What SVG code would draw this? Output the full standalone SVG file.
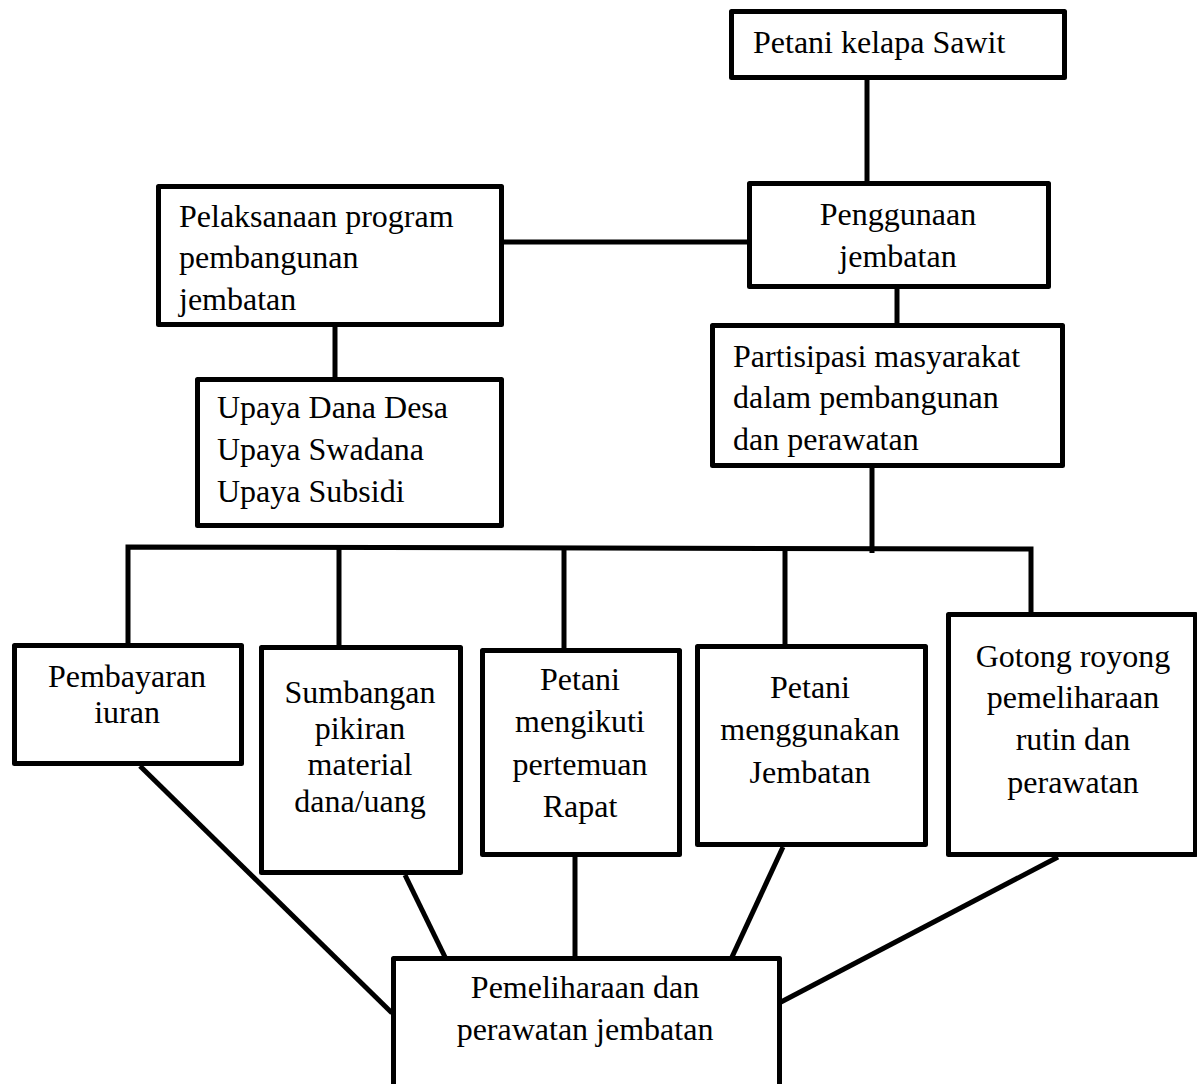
<svg xmlns="http://www.w3.org/2000/svg" width="1197" height="1084" viewBox="0 0 1197 1084">
<style>
.box{fill:#fff;stroke:#000;stroke-width:5;stroke-linejoin:round}
.ln{fill:none;stroke:#000;stroke-width:5}
text{font-family:"Liberation Serif","Times New Roman",serif;font-size:32px;fill:#000}
.c{text-anchor:middle}
</style>
<rect width="1197" height="1084" fill="#fff"/>
<g id="connectors">
<path class="ln" d="M867,80 V181"/>
<path class="ln" d="M504,242 H747"/>
<path class="ln" d="M335,327 V377"/>
<path class="ln" d="M897,289 V323"/>
<path class="ln" d="M872,468 V553"/>
<path class="ln" d="M128,643 V547 L1031,549 V612"/>
<path class="ln" d="M339,547 V645"/>
<path class="ln" d="M564,548 V648"/>
<path class="ln" d="M785,548 V644"/>
<path class="ln" d="M140,766 L392,1013"/>
<path class="ln" d="M405,875 L445,957"/>
<path class="ln" d="M575,857 V957"/>
<path class="ln" d="M783,847 L732,957"/>
<path class="ln" d="M1058,857 L781,1002"/>
</g>
<g id="n-petani">
<rect class="box" x="731.5" y="11.5" width="333" height="66"/>
<text x="753" y="53">Petani kelapa Sawit</text>
</g>
<g id="n-penggunaan">
<rect class="box" x="749.5" y="183.5" width="299" height="103"/>
<text class="c" x="898" y="225">Penggunaan</text>
<text class="c" x="898" y="267">jembatan</text>
</g>
<g id="n-pelaksanaan">
<rect class="box" x="158.5" y="186.5" width="343" height="138"/>
<text x="179" y="227">Pelaksanaan program</text>
<text x="179" y="268">pembangunan</text>
<text x="179" y="310">jembatan</text>
</g>
<g id="n-upaya">
<rect class="box" x="197.5" y="379.5" width="304" height="146"/>
<text x="217" y="418">Upaya Dana Desa</text>
<text x="217" y="460">Upaya Swadana</text>
<text x="217" y="502">Upaya Subsidi</text>
</g>
<g id="n-partisipasi">
<rect class="box" x="712.5" y="325.5" width="350" height="140"/>
<text x="733" y="367">Partisipasi masyarakat</text>
<text x="733" y="408">dalam pembangunan</text>
<text x="733" y="450">dan perawatan</text>
</g>
<g id="n-pembayaran">
<rect class="box" x="14.5" y="645.5" width="227" height="118"/>
<text class="c" x="127" y="687">Pembayaran</text>
<text class="c" x="127" y="723">iuran</text>
</g>
<g id="n-sumbangan">
<rect class="box" x="261.5" y="647.5" width="199" height="225"/>
<text class="c" x="360" y="703">Sumbangan</text>
<text class="c" x="360" y="739">pikiran</text>
<text class="c" x="360" y="775">material</text>
<text class="c" x="360" y="812">dana/uang</text>
</g>
<g id="n-rapat">
<rect class="box" x="482.5" y="650.5" width="197" height="204"/>
<text class="c" x="580" y="690">Petani</text>
<text class="c" x="580" y="732">mengikuti</text>
<text class="c" x="580" y="775">pertemuan</text>
<text class="c" x="580" y="817">Rapat</text>
</g>
<g id="n-menggunakan">
<rect class="box" x="697.5" y="646.5" width="228" height="198"/>
<text class="c" x="810" y="698">Petani</text>
<text class="c" x="810" y="740">menggunakan</text>
<text class="c" x="810" y="783">Jembatan</text>
</g>
<g id="n-gotong">
<rect class="box" x="948.5" y="614.5" width="247" height="240"/>
<text class="c" x="1073" y="667">Gotong royong</text>
<text class="c" x="1073" y="708">pemeliharaan</text>
<text class="c" x="1073" y="750">rutin dan</text>
<text class="c" x="1073" y="793">perawatan</text>
</g>
<g id="n-pemeliharaan">
<rect class="box" x="393.5" y="958.5" width="386" height="150"/>
<text class="c" x="585" y="998">Pemeliharaan dan</text>
<text class="c" x="585" y="1040">perawatan jembatan</text>
</g>
</svg>
